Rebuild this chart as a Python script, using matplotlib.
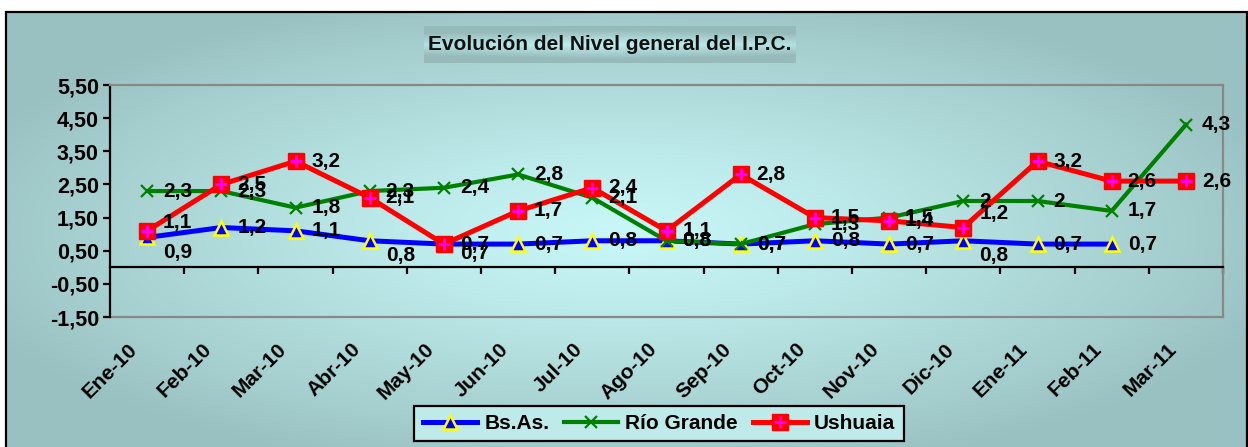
import numpy as np
import matplotlib.pyplot as plt
from matplotlib.lines import Line2D
from matplotlib.patches import Rectangle
from matplotlib.legend_handler import HandlerTuple
import matplotlib.transforms as mtransforms

plt.rcParams['font.family'] = ['Liberation Sans', 'DejaVu Sans']
plt.rcParams['font.weight'] = 'bold'

# Data
months = ['Ene-10', 'Feb-10', 'Mar-10', 'Abr-10', 'May-10', 'Jun-10', 'Jul-10',
          'Ago-10', 'Sep-10', 'Oct-10', 'Nov-10', 'Dic-10', 'Ene-11', 'Feb-11', 'Mar-11']
bsas = [0.9, 1.2, 1.1, 0.8, 0.7, 0.7, 0.8, 0.8, 0.7, 0.8, 0.7, 0.8, 0.7, 0.7, np.nan]
rio_grande = [2.3, 2.3, 1.8, 2.3, 2.4, 2.8, 2.1, 0.8, 0.7, 1.3, 1.5, 2, 2, 1.7, 4.3]
ushuaia = [1.1, 2.5, 3.2, 2.1, 0.7, 1.7, 2.4, 1.1, 2.8, 1.5, 1.4, 1.2, 3.2, 2.6, 2.6]
yticks = [-1.5, -0.5, 0.5, 1.5, 2.5, 3.5, 4.5, 5.5]

W, H = 1248, 447
fig = plt.figure(figsize=(W / 100, H / 100), dpi=100)

# Background with a soft radial gradient
bg = fig.add_axes([0, 0, 1, 1], zorder=-10)
bg.set_xlim(0, W)
bg.set_ylim(0, H)
bg.axis('off')
xx, yy = np.meshgrid(np.linspace(6, W, 400), np.linspace(0, 435, 200))
t = np.clip(np.sqrt(((xx - 620) / 700) ** 2 + ((yy - 215) / 250) ** 2), 0, 1) ** 1.2
light = np.array([200, 247, 247]) / 255
dark = np.array([154, 193, 193]) / 255
img = light * (1 - t[..., None]) + dark * t[..., None]
bg.imshow(img, extent=(6, W, 0, 435), origin='lower', aspect='auto', zorder=0)
bg.add_patch(Rectangle((6, -5), W - 7.5, 440, fill=False, edgecolor='black', lw=1.6, zorder=2))

# Title box
tx = np.linspace(-1, 1, 200)
ty = np.linspace(-1, 1, 40)
tX, tY = np.meshgrid(tx, ty)
tt = np.clip(np.abs(tY) * 1.2 + 0.25 * np.abs(tX), 0, 1)
tlight = np.array([192, 238, 238]) / 255
tdark = np.array([150, 186, 186]) / 255
timg = tlight * (1 - tt[..., None]) + tdark * tt[..., None]
bg.imshow(timg, extent=(424, 796, H - 63, H - 26), origin='lower', aspect='auto', zorder=1)
bg.text(610, H - 44.5, 'Evolución del Nivel general del I.P.C.', ha='center', va='center',
        fontsize=15, fontweight='bold', color='#111111', zorder=3)

# Main plot
ax = fig.add_axes([110 / W, 1 - 317 / H, 1113 / W, 232 / H])
ax.patch.set_alpha(0)
x = np.arange(len(months)) + 0.5
ax.set_xlim(0, len(months))
ax.set_ylim(-1.5, 5.5)

ax.spines['left'].set_linewidth(1.6)
ax.spines['left'].set_color('black')
for s in ['top', 'right']:
    ax.spines[s].set_color('#888888')
    ax.spines[s].set_linewidth(1.6)
ax.spines['bottom'].set_position(('data', 0))
ax.spines['bottom'].set_linewidth(1.6)
ax.axhline(-1.5, color='#888888', lw=1.6, clip_on=False)

ax.set_yticks(yticks)
ax.set_yticklabels([f'{v:.2f}'.replace('.', ',') for v in yticks], fontsize=15.5, fontweight='bold')
ax.set_xticks(np.arange(1, len(months) + 1))
ax.set_xticklabels([])
ax.tick_params(axis='both', direction='out', length=5, width=1.6, color='black')
ax.tick_params(axis='y', pad=3)

trans = mtransforms.blended_transform_factory(ax.transData, ax.transAxes)
for xi, m in zip(x, months):
    ax.annotate(m, (xi, 0), xycoords=trans, xytext=(-9, -21), textcoords='offset points',
                rotation=45, rotation_mode='anchor', ha='right', va='center',
                fontsize=15, fontweight='bold', annotation_clip=False)

ax.plot(x, bsas, color='#0000ff', lw=3.6, marker='^', ms=10, mfc='#0000ff',
        mec='#ffff00', mew=1.8, zorder=3)
ax.plot(x, rio_grande, color='#008000', lw=3, marker='x', ms=9, mec='#008000',
        mew=1.6, zorder=4)
ax.plot(x, ushuaia, color='#ff0000', lw=3.6, marker='s', ms=11, mfc='#ff0000',
        mec='#ff0000', zorder=5)
ax.plot(x, ushuaia, ls='none', marker='+', ms=8, mec='#ff00ff', mew=2, zorder=6)


def fmt(v):
    if v == int(v):
        return str(int(v))
    return f'{v:.1f}'.replace('.', ',')


down = (11.5, -10.5)
offsets = {
    ('bsas', 0): down, ('bsas', 3): down, ('bsas', 4): (11.5, -7), ('bsas', 11): down,
    ('ush', 0): (11.5, 6), ('ush', 11): (11.5, 10),
}
for key, series in [('bsas', bsas), ('rg', rio_grande), ('ush', ushuaia)]:
    for i, v in enumerate(series):
        if np.isnan(v):
            continue
        ax.annotate(fmt(v), (x[i], v), xytext=offsets.get((key, i), (11.5, 0)),
                    textcoords='offset points', ha='left', va='center',
                    fontsize=15, fontweight='bold', zorder=10, annotation_clip=False)

# Legend
h_bs = Line2D([], [], color='#0000ff', lw=3.6, marker='^', ms=10, mfc='#0000ff',
              mec='#ffff00', mew=1.8)
h_rg = Line2D([], [], color='#008000', lw=3, marker='x', ms=9, mec='#008000', mew=1.6)
h_us1 = Line2D([], [], color='#ff0000', lw=3.6, marker='s', ms=11, mfc='#ff0000', mec='#ff0000')
h_us2 = Line2D([], [], ls='none', marker='+', ms=8, mec='#ff00ff', mew=2)
leg = fig.legend([h_bs, h_rg, (h_us1, h_us2)], ['Bs.As.', 'Río Grande', 'Ushuaia'],
                 handler_map={tuple: HandlerTuple(ndivide=1)},
                 loc='center', bbox_to_anchor=(659 / W, 1 - 423.5 / H), ncol=3,
                 fancybox=False, frameon=True, handlelength=2.6, handletextpad=0.35,
                 columnspacing=0.7, borderpad=0.4, prop={'size': 15, 'weight': 'bold'})
leg.get_frame().set_edgecolor('black')
leg.get_frame().set_linewidth(1.6)
leg.get_frame().set_facecolor('#bfeaea')
leg.get_frame().set_alpha(1)

fig.savefig('out.png', dpi=100)
